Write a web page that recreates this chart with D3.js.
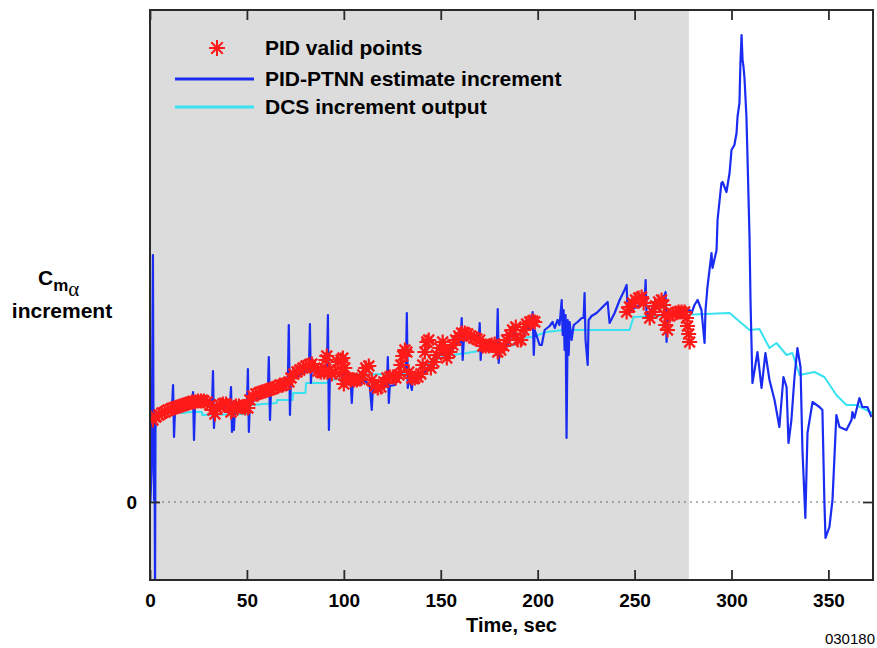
<!DOCTYPE html>
<html>
<head>
<meta charset="utf-8">
<script src="https://cdn.jsdelivr.net/npm/d3@7"></script>
<style>
  body { margin: 0; background: #fff; }
  svg { display: block; }
  text { font-family: "Liberation Sans", Arial, Helvetica, sans-serif; }
</style>
</head>
<body>
<svg id="chart" width="877" height="648"></svg>
<script>
// ---- data -------------------------------------------------------------
const xTickValues = [0, 50, 100, 150, 200, 250, 300, 350];
const yTickValues = [0];
const timeDomain = [0, 373];
const incrementDomain = [-0.078, 0.492];
const pidWindowEnd = 278;          // end of the interval where PID points are valid (sec)
const figureId = "030180";

// DCS increment output [time s, increment]
const dcsOutput = [
  [0, 0], [2.6, 0], [2.8, 0.089], [17.0, 0.089], [20.6, 0.090], [26.8, 0.090], [27.0, 0.087],
  [51.3, 0.088], [51.6, 0.097], [65.3, 0.099], [65.6, 0.102], [73.5, 0.102], [73.8, 0.109],
  [80.2, 0.109], [80.5, 0.119], [91.2, 0.119], [92.8, 0.122], [101.3, 0.124], [101.6, 0.127],
  [140.5, 0.129], [141.8, 0.137], [149.5, 0.144], [152.1, 0.146], [163.4, 0.149], [172.7, 0.152],
  [188.1, 0.157], [190.7, 0.164], [196.9, 0.165], [204.6, 0.170], [212.9, 0.172], [247.4, 0.172],
  [249.5, 0.185], [299.0, 0.189], [309.3, 0.172], [314.4, 0.173], [319.6, 0.154], [323.2, 0.159],
  [328.4, 0.147], [331.4, 0.149], [335.1, 0.127], [342.8, 0.130], [347.9, 0.125], [354.1, 0.107],
  [359.3, 0.097], [364.4, 0.097], [372.7, 0.089]
];

// PID-PTNN estimate increment [time s, increment]
const ptnnEstimate = [
  [0.2, 0.000], [0.8, 0.032], [1.0, 0.087], [1.5, 0.247], [1.8, 0.082], [2.1, 0.002], [2.3, 0.092],
  [2.6, -0.098], [2.8, 0.072], [3.1, 0.090], [5.2, 0.088], [7.7, 0.090], [10.3, 0.092],
  [11.3, 0.092], [11.9, 0.117], [12.4, 0.065], [12.9, 0.092], [15.5, 0.094], [18.0, 0.097],
  [21.6, 0.098], [22.2, 0.110], [22.7, 0.062], [23.2, 0.097], [25.8, 0.098], [29.4, 0.099],
  [32.0, 0.097], [32.5, 0.131], [33.0, 0.074], [33.5, 0.094], [36.1, 0.095], [38.7, 0.094],
  [41.2, 0.094], [41.8, 0.115], [42.3, 0.070], [42.8, 0.087], [43.3, 0.072], [43.8, 0.094],
  [46.4, 0.094], [49.0, 0.094], [50.0, 0.095], [50.5, 0.133], [51.0, 0.070], [51.5, 0.099],
  [54.1, 0.102], [56.7, 0.105], [59.3, 0.108], [60.8, 0.109], [61.3, 0.145], [61.9, 0.082],
  [62.4, 0.110], [64.4, 0.112], [67.0, 0.114], [69.6, 0.115], [71.1, 0.116], [71.6, 0.177],
  [72.2, 0.087], [72.7, 0.122], [74.7, 0.124], [77.3, 0.127], [79.9, 0.130], [82.0, 0.131],
  [82.5, 0.178], [83.0, 0.119], [83.5, 0.132], [85.1, 0.130], [87.6, 0.128], [90.2, 0.126],
  [91.2, 0.126], [91.8, 0.187], [92.3, 0.072], [92.8, 0.127], [95.4, 0.130], [97.9, 0.130],
  [100.5, 0.126], [103.1, 0.120], [103.6, 0.119], [104.1, 0.099], [104.6, 0.118], [108.2, 0.117],
  [110.8, 0.122], [113.4, 0.116], [114.4, 0.092], [115.0, 0.114], [118.6, 0.112], [121.1, 0.116],
  [122.2, 0.116], [122.7, 0.145], [123.2, 0.099], [123.7, 0.116], [126.3, 0.117], [128.9, 0.127],
  [131.4, 0.132], [132.0, 0.132], [132.5, 0.189], [133.0, 0.114], [133.5, 0.126], [135.1, 0.112],
  [135.6, 0.124], [139.2, 0.126], [141.8, 0.130], [144.3, 0.137], [146.9, 0.142], [149.5, 0.147],
  [152.1, 0.150], [154.6, 0.152], [157.2, 0.157], [160.3, 0.160], [160.8, 0.184], [161.3, 0.142],
  [161.9, 0.162], [164.9, 0.164], [167.5, 0.164], [169.6, 0.162], [170.1, 0.179], [170.6, 0.142],
  [171.1, 0.160], [175.3, 0.155], [177.8, 0.154], [178.9, 0.154], [179.4, 0.193], [179.9, 0.139],
  [180.4, 0.152], [183.0, 0.154], [185.6, 0.160], [187.1, 0.175], [188.1, 0.167], [190.7, 0.162],
  [193.3, 0.169], [195.9, 0.176], [196.9, 0.176], [197.4, 0.190], [198.0, 0.147], [198.5, 0.172],
  [201.0, 0.157], [202.1, 0.157], [203.6, 0.172], [206.2, 0.176], [207.7, 0.180], [208.8, 0.174],
  [210.3, 0.182], [211.3, 0.177], [212.4, 0.202], [212.9, 0.167], [213.4, 0.192], [213.9, 0.152],
  [214.4, 0.187], [214.9, 0.064], [215.5, 0.182], [216.0, 0.147], [216.5, 0.180], [217.5, 0.162],
  [218.6, 0.177], [220.6, 0.180], [222.7, 0.184], [223.7, 0.184], [224.2, 0.209], [224.7, 0.162],
  [225.8, 0.137], [226.3, 0.182], [227.8, 0.186], [230.4, 0.189], [233.5, 0.195], [236.1, 0.200],
  [237.1, 0.179], [239.7, 0.189], [242.3, 0.202], [244.8, 0.212], [245.9, 0.217], [246.4, 0.190],
  [250.0, 0.194], [252.6, 0.197], [255.2, 0.202], [255.7, 0.222], [256.2, 0.184], [257.7, 0.190],
  [260.3, 0.197], [262.9, 0.202], [265.5, 0.207], [266.0, 0.210], [266.5, 0.160], [267.0, 0.187],
  [270.6, 0.189], [273.2, 0.190], [275.8, 0.190], [278.4, 0.192], [279.4, 0.189], [280.9, 0.197],
  [282.5, 0.202], [284.5, 0.192], [286.1, 0.159], [286.6, 0.192], [287.6, 0.215], [289.7, 0.249],
  [290.2, 0.234], [292.3, 0.252], [292.8, 0.282], [294.8, 0.319], [295.4, 0.320], [297.4, 0.310],
  [299.0, 0.329], [300.0, 0.352], [301.5, 0.357], [302.6, 0.369], [303.1, 0.385], [304.1, 0.399],
  [304.6, 0.439], [305.2, 0.467], [305.7, 0.442], [306.2, 0.435], [306.7, 0.424], [307.7, 0.385],
  [308.2, 0.349], [309.3, 0.265], [309.8, 0.202], [310.8, 0.119], [311.9, 0.132], [313.4, 0.150],
  [315.5, 0.114], [317.5, 0.149], [319.6, 0.122], [322.2, 0.102], [324.7, 0.075], [326.8, 0.125],
  [328.4, 0.115], [329.4, 0.059], [330.9, 0.082], [332.5, 0.125], [334.0, 0.154], [335.6, 0.135],
  [336.6, 0.052], [338.1, -0.016], [339.2, 0.069], [341.8, 0.100], [345.4, 0.095], [346.9, 0.092],
  [347.9, 0.002], [348.5, -0.036], [350.5, -0.025], [352.1, 0.002], [354.1, 0.087], [355.7, 0.075],
  [359.3, 0.072], [361.9, 0.082], [362.4, 0.090], [363.4, 0.084], [366.0, 0.104], [367.5, 0.095],
  [370.1, 0.095], [372.2, 0.085]
];

// PID valid points [time s, increment]
const pidValidPoints = [
  [1.5, 0.082], [3.1, 0.085], [4.6, 0.087], [6.2, 0.089], [7.7, 0.090], [9.3, 0.092], [10.8, 0.093],
  [12.4, 0.094], [13.9, 0.095], [15.5, 0.096], [17.0, 0.097], [18.6, 0.098], [20.1, 0.099],
  [21.7, 0.100], [23.2, 0.100], [24.7, 0.101], [26.3, 0.101], [27.8, 0.101], [29.4, 0.100],
  [30.9, 0.097], [32.5, 0.092], [33.5, 0.088], [34.5, 0.094], [36.1, 0.097], [37.6, 0.098],
  [39.2, 0.098], [40.7, 0.096], [41.8, 0.090], [42.8, 0.092], [44.3, 0.096], [45.9, 0.096],
  [47.4, 0.095], [49.0, 0.094], [50.5, 0.094], [51.5, 0.102], [53.1, 0.106], [54.6, 0.108],
  [56.2, 0.109], [57.7, 0.110], [59.3, 0.111], [60.8, 0.112], [62.4, 0.113], [63.9, 0.114],
  [65.5, 0.115], [67.0, 0.117], [68.6, 0.117], [70.1, 0.118], [71.7, 0.120], [72.7, 0.124],
  [74.2, 0.128], [75.8, 0.130], [77.3, 0.132], [78.9, 0.134], [80.4, 0.136], [82.0, 0.137],
  [83.5, 0.138], [85.1, 0.134], [86.6, 0.131], [88.1, 0.130], [89.7, 0.130], [90.7, 0.142],
  [91.2, 0.146], [92.3, 0.132], [93.8, 0.128], [95.4, 0.130], [96.9, 0.140], [98.5, 0.142],
  [99.0, 0.130], [99.5, 0.144], [100.0, 0.118], [100.5, 0.134], [101.0, 0.122], [102.1, 0.124],
  [103.6, 0.122], [105.2, 0.122], [106.7, 0.122], [108.3, 0.123], [109.8, 0.127], [111.3, 0.134],
  [112.9, 0.136], [114.4, 0.122], [116.0, 0.116], [117.5, 0.114], [119.1, 0.115], [120.6, 0.120],
  [122.2, 0.124], [123.7, 0.125], [125.3, 0.125], [126.8, 0.124], [128.4, 0.127], [129.4, 0.137],
  [130.4, 0.146], [131.5, 0.152], [132.5, 0.150], [133.5, 0.130], [135.1, 0.124], [136.6, 0.124],
  [138.2, 0.125], [139.7, 0.128], [140.7, 0.137], [141.8, 0.150], [142.8, 0.160], [143.8, 0.162],
  [144.9, 0.134], [146.4, 0.140], [147.9, 0.147], [149.5, 0.154], [151.0, 0.160], [152.1, 0.152],
  [153.1, 0.144], [154.7, 0.150], [156.2, 0.157], [157.7, 0.162], [159.3, 0.166], [160.8, 0.169],
  [162.4, 0.169], [163.9, 0.168], [165.5, 0.166], [167.0, 0.164], [168.6, 0.163], [170.1, 0.162],
  [171.7, 0.156], [173.2, 0.156], [174.8, 0.156], [176.3, 0.157], [177.8, 0.158], [179.4, 0.150],
  [180.9, 0.152], [182.5, 0.156], [184.0, 0.162], [185.6, 0.167], [187.1, 0.172], [188.7, 0.175],
  [189.7, 0.162], [191.3, 0.162], [192.8, 0.172], [194.3, 0.178], [195.9, 0.180], [197.4, 0.181],
  [198.5, 0.180],
  [245.9, 0.190], [247.4, 0.195], [249.0, 0.199], [250.5, 0.202], [252.1, 0.204], [253.6, 0.205],
  [254.7, 0.199], [257.8, 0.184], [259.3, 0.190], [260.8, 0.196], [262.4, 0.200], [263.9, 0.202],
  [265.0, 0.197], [265.5, 0.187], [266.0, 0.177], [267.0, 0.172], [268.1, 0.186], [269.6, 0.188],
  [271.2, 0.189], [272.7, 0.190], [274.2, 0.190], [275.8, 0.190], [276.8, 0.184], [277.3, 0.176],
  [277.9, 0.168], [278.4, 0.160]
];

const legendEntries = [
  { label: "PID valid points", kind: "marker" },
  { label: "PID-PTNN estimate increment", kind: "line", color: "#1a2cf2" },
  { label: "DCS increment output", kind: "line", color: "#38e2f0" }
];

// ---- layout -----------------------------------------------------------
const plot = { left: 150, top: 10, right: 873, bottom: 580 };
const colors = { pid: "#ff1a1a", ptnn: "#1a2cf2", dcs: "#38e2f0", shade: "#dcdcdc", frame: "#2a2a2a" };

const svg = d3.select("#chart");
const x = d3.scaleLinear().domain(timeDomain).range([plot.left, plot.right]);
const y = d3.scaleLinear().domain(incrementDomain).range([plot.bottom, plot.top]);

svg.append("defs").append("clipPath").attr("id", "plot-clip")
  .append("rect")
  .attr("x", plot.left).attr("y", plot.top)
  .attr("width", plot.right - plot.left).attr("height", plot.bottom - plot.top);

// shaded interval where PID points are valid
svg.append("rect")
  .attr("x", x(0)).attr("y", plot.top)
  .attr("width", x(pidWindowEnd) - x(0)).attr("height", plot.bottom - plot.top)
  .attr("fill", colors.shade);

// dotted zero reference
svg.append("line")
  .attr("x1", plot.left).attr("x2", plot.right - 10)
  .attr("y1", y(0)).attr("y2", y(0))
  .attr("stroke", "#666").attr("stroke-width", 1.2)
  .attr("stroke-dasharray", "2,4");

const data = svg.append("g").attr("clip-path", "url(#plot-clip)");
const line = d3.line().x(d => x(d[0])).y(d => y(d[1]));

data.append("path").datum(dcsOutput)
  .attr("d", line).attr("fill", "none")
  .attr("stroke", colors.dcs).attr("stroke-width", 2).attr("stroke-linejoin", "round");

data.append("path").datum(ptnnEstimate)
  .attr("d", line).attr("fill", "none")
  .attr("stroke", colors.ptnn).attr("stroke-width", 2.2).attr("stroke-linejoin", "round");

// eight-armed asterisk marker
function asterisk(r) {
  const d = r * 0.72;
  return `M${-r},0H${r}M0,${-r}V${r}M${-d},${-d}L${d},${d}M${-d},${d}L${d},${-d}`;
}

data.append("g").selectAll("path").data(pidValidPoints).join("path")
  .attr("transform", d => `translate(${x(d[0])},${y(d[1])})`)
  .attr("d", asterisk(7.5))
  .attr("fill", "none").attr("stroke", colors.pid).attr("stroke-width", 2.2);

// ---- axes -------------------------------------------------------------
const tickLen = 10;
const axisBottom = d3.axisBottom(x).tickValues(xTickValues).tickSize(-tickLen).tickPadding(14).tickFormat(d3.format("d"));
const axisTop = d3.axisTop(x).tickValues(xTickValues).tickSize(-tickLen).tickFormat("");
const axisLeft = d3.axisLeft(y).tickValues(yTickValues).tickSize(-tickLen).tickPadding(13).tickFormat(d3.format("d"));
const axisRight = d3.axisRight(y).tickValues(yTickValues).tickSize(-tickLen).tickFormat("");

function styleAxis(g) {
  g.select(".domain").remove();
  g.selectAll(".tick line").attr("stroke", colors.frame).attr("stroke-width", 1.8);
  g.selectAll(".tick text")
    .attr("fill", "#000")
    .style("font-size", "19px").style("font-weight", "bold")
    .style("font-family", '"Liberation Sans", Arial, sans-serif');
}

svg.append("g").attr("transform", `translate(0,${plot.bottom})`).call(axisBottom).call(styleAxis);
svg.append("g").attr("transform", `translate(0,${plot.top})`).call(axisTop).call(styleAxis);
svg.append("g").attr("transform", `translate(${plot.left},0)`).call(axisLeft).call(styleAxis);
svg.append("g").attr("transform", `translate(${plot.right},0)`).call(axisRight).call(styleAxis);

// plot frame
svg.append("rect")
  .attr("x", plot.left).attr("y", plot.top)
  .attr("width", plot.right - plot.left).attr("height", plot.bottom - plot.top)
  .attr("fill", "none").attr("stroke", colors.frame).attr("stroke-width", 2);

// axis titles
svg.append("text")
  .attr("x", (plot.left + plot.right) / 2).attr("y", 632)
  .attr("text-anchor", "middle")
  .style("font-size", "20px").style("font-weight", "bold")
  .text("Time, sec");

const yTitle = svg.append("text").attr("x", 38).attr("y", 285)
  .style("font-size", "21px").style("font-weight", "bold");
yTitle.append("tspan").text("C");
yTitle.append("tspan").attr("dy", 6).style("font-size", "17px").text("m");
yTitle.append("tspan").attr("dy", 5)
  .style("font-size", "21px").style("font-weight", "normal")
  .style("font-family", '"Liberation Serif", "DejaVu Serif", serif')
  .text("α");

svg.append("text").attr("x", 62).attr("y", 318)
  .attr("text-anchor", "middle")
  .style("font-size", "21px").style("font-weight", "bold")
  .text("increment");

svg.append("text").attr("x", 875).attr("y", 644)
  .attr("text-anchor", "end")
  .style("font-size", "15px")
  .text(figureId);

// ---- legend -----------------------------------------------------------
const legend = svg.append("g");
const rowY = [48, 79, 107];
legendEntries.forEach((e, i) => {
  if (e.kind === "marker") {
    legend.append("path")
      .attr("transform", `translate(217,${rowY[i]})`)
      .attr("d", asterisk(8))
      .attr("fill", "none").attr("stroke", colors.pid).attr("stroke-width", 2);
  } else {
    legend.append("line")
      .attr("x1", 175).attr("x2", 254)
      .attr("y1", rowY[i]).attr("y2", rowY[i])
      .attr("stroke", e.color).attr("stroke-width", 3);
  }
  legend.append("text")
    .attr("x", 265).attr("y", rowY[i] + 7)
    .style("font-size", "21px").style("font-weight", "bold")
    .text(e.label);
});
</script>
</body>
</html>
